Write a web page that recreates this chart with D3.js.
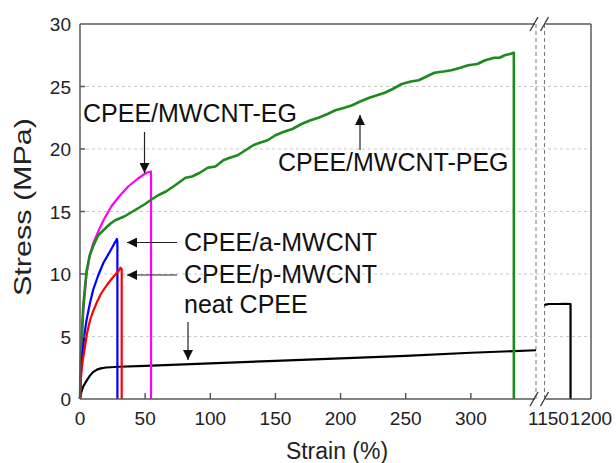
<!DOCTYPE html>
<html><head><meta charset="utf-8">
<script src="https://cdn.jsdelivr.net/npm/d3@7"></script>
<style>html,body{margin:0;padding:0;background:#fff;}svg{display:block;font-family:"Liberation Sans",Arial,sans-serif;}</style>
</head><body>
<script>
// ---- data ----
const strainPEG = [0,0.5,1.3,2.5,5,7.5,10,14,18,23,27,34,42,50,54,60,66,73,81,86,92,98,104,110,115,121,127,133,138,144,150,157,163,170,177,183,190,196,203,209,215,222,228,234,240,247,254,260,266,272,279,285,292,298,305,311,318,322,326,330,333,333];
const stressPEG = [0,2.8,5.0,7.5,10.2,11.5,12.2,13.1,13.5,14.0,14.3,14.6,15.1,15.6,15.9,16.3,16.6,17.1,17.7,17.8,18.1,18.5,18.6,19.1,19.3,19.5,19.9,20.3,20.5,20.7,21.1,21.4,21.6,22.0,22.3,22.5,22.8,23.1,23.3,23.5,23.8,24.1,24.3,24.5,24.8,25.2,25.4,25.5,25.8,26.1,26.2,26.3,26.5,26.7,26.8,27.1,27.3,27.3,27.5,27.6,27.7,0];
const strainEG = [0,1,2.5,5,7.5,10,14,18,24,30,37,44,51,54.5,54.5];
const stressEG = [0,3.8,7.0,10.0,11.5,12.4,13.4,14.3,15.4,16.2,17.0,17.6,18.1,18.2,0];
const strainA = [0,0.5,2,3.5,5,7.5,10,14,18,23,28.3,28.7,28.7];
const stressA = [0,1.8,3.7,5.2,6.3,7.6,8.7,9.9,10.9,11.8,12.8,12.6,0];
const strainP = [0,0.5,2,3.8,5.5,7.7,10,12.8,16,20.5,25,30,31,32,32];
const stressP = [0,1.5,3.0,4.2,5.3,6.3,7.0,7.7,8.4,9.1,9.7,10.3,10.5,10.4,0];
const strainNeat = [0,1,2.5,5,7.5,10,13,16,20,30,50,100,150,200,250,300,350];
const stressNeat = [0,0.55,1.0,1.45,1.85,2.15,2.35,2.45,2.52,2.58,2.65,2.85,3.05,3.25,3.45,3.7,3.9];
const strainNeatR = [1150,1151,1155,1165,1172,1178,1178];
const stressNeatR = [7.5,7.55,7.6,7.6,7.62,7.6,0];
const xTicksLeft = [0,50,100,150,200,250,300];
const xTicksRight = [1150,1200];
const yTicks = [0,5,10,15,20,25,30];
const labels = ["CPEE/MWCNT-EG","CPEE/MWCNT-PEG","CPEE/a-MWCNT","CPEE/p-MWCNT","neat CPEE"];

// ---- layout ----
const W=616,H=463;
const L=80,R=591,T=24,B=399;
const brk1=536, brk2=544.5;
const xL=d3.scaleLinear().domain([0,350]).range([L,brk1]);
const xR=d3.scaleLinear().domain([1150,1200]).range([brk2,R]);
const y=d3.scaleLinear().domain([0,30]).range([B,T]);
const svg=d3.select("body").append("svg").attr("width",W).attr("height",H);
const frame="#5a5a5a";

// grid
svg.append("g").selectAll("line").data(yTicks.filter(v=>v>0&&v<30)).join("line")
 .attr("x1",L).attr("x2",R).attr("y1",d=>y(d)).attr("y2",d=>y(d))
 .attr("stroke","#c8c8c8").attr("stroke-width",1).attr("stroke-dasharray","3,3");

// break dashed verticals
[brk1,brk2].forEach(xx=>svg.append("line").attr("x1",xx).attr("x2",xx).attr("y1",T).attr("y2",B)
 .attr("stroke","#777").attr("stroke-width",1).attr("stroke-dasharray","4,3"));

// curves
const lineL=d3.line().x(d=>xL(d[0])).y(d=>y(d[1]));
const lineR=d3.line().x(d=>xR(d[0])).y(d=>y(d[1]));
const zip=(a,b)=>a.map((v,i)=>[v,b[i]]);
function draw(sx,sy,color,w,gen){svg.append("path").datum(zip(sx,sy)).attr("d",gen||lineL)
 .attr("fill","none").attr("stroke",color).attr("stroke-width",w).attr("stroke-linejoin","round");}
draw(strainNeat,stressNeat,"#000",2.2);
draw(strainNeatR,stressNeatR,"#000",2.2,lineR);
draw(strainEG,stressEG,"#ff00ff",2.2);
draw(strainPEG,stressPEG,"#1d8a1d",2.6);
draw(strainA,stressA,"#0000ff",2.2);
draw(strainP,stressP,"#ff0000",2.2);

// frame
const fr=svg.append("g").attr("stroke",frame).attr("stroke-width",1.5).attr("fill","none");
fr.append("line").attr("x1",L).attr("x2",L).attr("y1",T).attr("y2",B);
fr.append("line").attr("x1",R).attr("x2",R).attr("y1",T).attr("y2",B);
[[L,brk1-1],[brk2+1,R]].forEach(([a,b])=>{
 fr.append("line").attr("x1",a).attr("x2",b).attr("y1",T).attr("y2",T);
 fr.append("line").attr("x1",a).attr("x2",b).attr("y1",B).attr("y2",B);
});
// break slashes
[T,B].forEach(yy=>[brk1-2,brk2].forEach(xx=>fr.append("line")
 .attr("x1",xx-4).attr("y1",yy+7).attr("x2",xx+4).attr("y2",yy-7).attr("stroke","#333").attr("stroke-width",1.3)));

// ticks
svg.append("g").selectAll("line").data(xTicksLeft.filter(v=>v>0)).join("line")
 .attr("x1",d=>xL(d)).attr("x2",d=>xL(d)).attr("y1",B).attr("y2",B-6).attr("stroke",frame).attr("stroke-width",1.5);
svg.append("g").selectAll("line").data(yTicks.filter(v=>v>0&&v<30)).join("line")
 .attr("x1",L).attr("x2",L+5).attr("y1",d=>y(d)).attr("y2",d=>y(d)).attr("stroke",frame).attr("stroke-width",1.5);

// tick labels
const tf=19, tc="#222";
svg.append("g").selectAll("text").data(yTicks).join("text")
 .attr("x",L-9).attr("y",d=>y(d)+7).attr("text-anchor","end").attr("font-size",tf).attr("fill",tc).text(d=>d);
svg.append("g").selectAll("text").data(xTicksLeft).join("text")
 .attr("x",d=>xL(d)).attr("y",B+26).attr("text-anchor","middle").attr("font-size",tf).attr("fill",tc).text(d=>d);
svg.append("g").selectAll("text").data(xTicksRight).join("text")
 .attr("x",(d,i)=>i===0?xR(d)+4:xR(d)).attr("y",B+26).attr("text-anchor","middle").attr("font-size",tf).attr("fill",tc).text(d=>d);

// axis titles
svg.append("text").attr("x",337).attr("y",459).attr("text-anchor","middle").attr("font-size",23).attr("fill",tc).text("Strain (%)");
svg.append("text").attr("transform","translate(31,207) rotate(-90)").attr("text-anchor","middle").attr("font-size",24)
 .attr("textLength",178).attr("lengthAdjust","spacingAndGlyphs").attr("fill",tc).text("Stress (MPa)");

// annotations
svg.append("defs").append("marker").attr("id","ah").attr("viewBox","0 0 10 10").attr("refX",10).attr("refY",5)
 .attr("markerWidth",10).attr("markerHeight",10).attr("markerUnits","userSpaceOnUse").attr("orient","auto")
 .append("path").attr("d","M0,0 L10,5 L0,10 Z").attr("fill","#111");
const af=25;
function ann(txt,x,yb){svg.append("text").attr("x",x).attr("y",yb).attr("font-size",af).attr("fill","#111").text(txt);}
function arrow(x1,y1,x2,y2){svg.append("line").attr("x1",x1).attr("y1",y1).attr("x2",x2).attr("y2",y2)
 .attr("stroke","#222").attr("stroke-width",1.2).attr("marker-end","url(#ah)");}
ann(labels[0],83,122); arrow(144.5,132,144.5,173);
ann(labels[1],278,171); arrow(360,150,360,115);
ann(labels[2],184,251); arrow(177,242.5,127,242.5);
ann(labels[3],184,283); arrow(177,275,127,275);
ann(labels[4],184,313); arrow(188,322,188,360);
</script>
</body></html>
